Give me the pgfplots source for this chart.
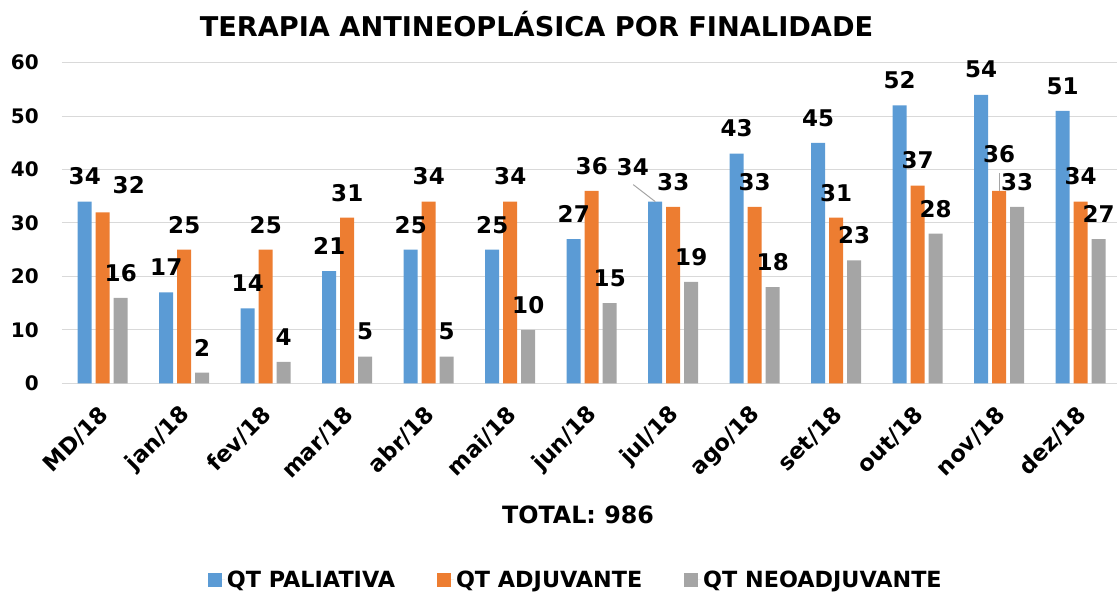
\documentclass[border=0pt]{standalone}
\usepackage{pgfplots}
\pgfplotsset{compat=1.18}
\usepackage{pgfplotstable}
\usepackage{fontspec}
\setmainfont{DejaVu Sans}
\definecolor{cblue}{HTML}{5B9BD5}
\definecolor{corange}{HTML}{ED7D31}
\definecolor{cgray}{HTML}{A5A5A5}
\definecolor{cgrid}{HTML}{D9D9D9}
\newcommand\ttl{\fontsize{27.2}{29}\selectfont\bfseries}
\newcommand\tck{\fontsize{20}{22}\selectfont\bfseries}
\newcommand\xtck{\fontsize{22.5}{24}\selectfont\bfseries}
\newcommand\lab{\fontsize{23}{25}\selectfont\bfseries}
\newcommand\leg{\fontsize{22.3}{24}\selectfont\bfseries}
\newcommand\xl{\fontsize{23.8}{25}\selectfont\bfseries}

\pgfplotstableread{
x y dx dy
0 34 0 25
1 17 0 25
2 14 0 25
3 21 0 25
4 25 0 25
5 25 0 25
6 27 0 25
7 34 -22.5 34.6
8 43 0 25
9 45 0 25
10 52 0 25
11 54 0 25
12 51 0 25
}\pal
\pgfplotstableread{
x y dx dy
0 32 26 27
1 25 0 25
2 25 0 25
3 31 0 25
4 34 0 25
5 34 0 25
6 36 0 25
7 33 0 25
8 33 0 25
9 31 0 25
10 37 0 25
11 36 0 37
12 34 0 25
}\adj
\pgfplotstableread{
x y dx dy
0 16 0 25
1 2 0 25
2 4 0 25
3 5 0 25
4 5 0 25
5 10 0 25
6 15 0 25
7 19 0 25
8 18 0 25
9 23 0 25
10 28 0 25
11 33 0 25
12 27 0 25
}\neo

\begin{document}
\begin{tikzpicture}
\useasboundingbox (-62pt,-212.7pt) rectangle (1055pt,383.3pt);
\begin{axis}[
  at={(0,0)}, anchor=south west,
  scale only axis, width=1059.5pt, height=320.6pt,
  ybar=4pt, bar width=14pt,
  xmin=-0.5, xmax=12.5, ymin=0, ymax=60,
  xtick={0,...,12},
  xticklabels={MD/18,jan/18,fev/18,mar/18,abr/18,mai/18,jun/18,jul/18,ago/18,set/18,out/18,nov/18,dez/18},
  ytick={0,10,...,60},
  ymajorgrids, grid style={cgrid, line width=1pt},
  axis line style={draw=none},
  major tick length=0pt,
  /pgf/number format/assume math mode=true,
  yticklabel style={font=\tck, anchor=east, inner sep=0pt, xshift=-23pt},
  xticklabel style={font=\xtck, anchor=east, inner sep=0pt, xshift=2pt, yshift=-28pt, rotate=45},
  clip=false,
  nodes near coords,
  visualization depends on={\thisrow{dx} \as \dx},
  visualization depends on={\thisrow{dy} \as \dy},
  every node near coord/.append style={font=\lab, anchor=center, inner sep=0pt, xshift=\dx pt, yshift=\dy pt},
  legend style={at={(0.485,-0.6135)}, anchor=center, draw=none, font=\leg,
    inner sep=0pt, /tikz/every even column/.append style={column sep=40pt}},
  legend columns=3,
  legend image code/.code={\fill[#1] (0pt,-7pt) rectangle (14pt,7pt); \path (0pt,0pt) -- (17pt,0pt);},
]
\addplot[fill=cblue, draw=none] table[x=x,y=y] {\pal};
\addplot[fill=corange, draw=none] table[x=x,y=y] {\adj};
\addplot[fill=cgray, draw=none] table[x=x,y=y] {\neo};
\legend{QT PALIATIVA, QT ADJUVANTE, QT NEOADJUVANTE}
\draw[color=cgray, line width=1pt] ([xshift=-18pt]axis cs:7,34) -- ++(-22pt,17pt);
\draw[color=cgray, line width=1pt] (axis cs:11,36) -- ++(0pt,18pt);
\end{axis}
\node[font=\ttl] at (474.5pt,359.3pt) {TERAPIA ANTINEOPLÁSICA POR FINALIDADE};
\node[font=\xl] at (516pt,-131.7pt) {TOTAL: 986};
\end{tikzpicture}
\end{document}
